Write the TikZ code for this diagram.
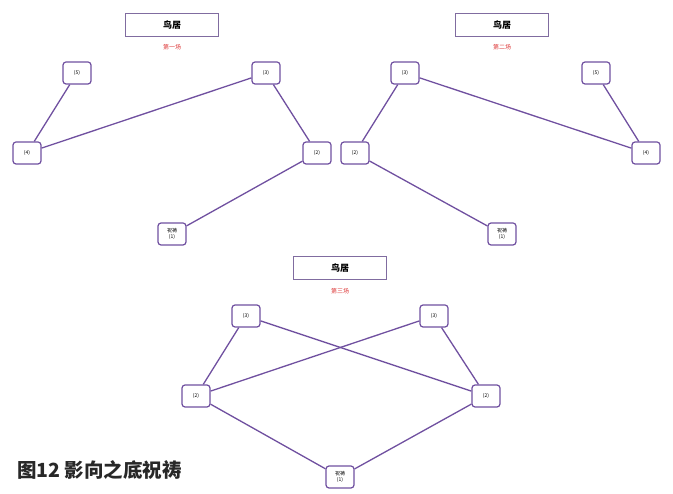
\documentclass[tikz,border=0pt]{standalone}
\usepackage{fontspec}
\usepackage{tikz}
\usetikzlibrary{arrows.meta,positioning}
\newfontfamily\cjk{Noto Sans CJK SC}
\definecolor{ritepurple}{RGB}{112,80,160}
\definecolor{gatepurple}{RGB}{128,108,160}
\definecolor{roundred}{RGB}{222,60,60}
\definecolor{captiongray}{RGB}{40,40,40}

\begin{document}
\begin{tikzpicture}[x=1pt,y=-1pt,
  stone/.style={draw=ritepurple,line width=1.2pt,rounded corners=3pt,fill=white,
    minimum width=28pt,minimum height=22pt,inner sep=1pt,font=\cjk\fontsize{5}{6}\selectfont,align=center},
  gate/.style={draw=gatepurple,line width=1.6pt,fill=white,minimum width=93pt,minimum height=23pt,
    font=\cjk\bfseries\fontsize{9}{10}\selectfont},
  round/.style={text=roundred,font=\cjk\fontsize{6}{7}\selectfont},
  link/.style={ritepurple,line width=1.3pt}]
\useasboundingbox (0,0) rectangle (673,494);
\fill[white] (0,0) rectangle (673,494);
% first round
\node[gate] (g1) at (172,25) {鸟居};
\node[round] (r1) at (172,47) {第一场};
\node[stone] (a5) at (77,73) {(5)};
\node[stone] (a3) at (266,73) {(3)};
\node[stone] (a4) at (27,153) {(4)};
\node[stone] (a2) at (317,153) {(2)};
\node[stone] (a1) at (172,234) {祝祷\\(1)};
\draw[link] (a5) -- (a4);
\draw[link] (a4) -- (a3);
\draw[link] (a3) -- (a2);
\draw[link] (a2) -- (a1);
% second round
\node[gate] (g2) at (502,25) {鸟居};
\node[round] (r2) at (502,47) {第二场};
\node[stone] (b3) at (405,73) {(3)};
\node[stone] (b5) at (596,73) {(5)};
\node[stone] (b2) at (355,153) {(2)};
\node[stone] (b4) at (646,153) {(4)};
\node[stone] (b1) at (502,234) {祝祷\\(1)};
\draw[link] (b3) -- (b2);
\draw[link] (b3) -- (b4);
\draw[link] (b5) -- (b4);
\draw[link] (b2) -- (b1);
% third round
\node[gate] (g3) at (340,268) {鸟居};
\node[round] (r3) at (340,291) {第三场};
\node[stone] (c3l) at (246,316) {(3)};
\node[stone] (c3r) at (434,316) {(3)};
\node[stone] (c2l) at (196,396) {(2)};
\node[stone] (c2r) at (486,396) {(2)};
\node[stone] (c1) at (340,477) {祝祷\\(1)};
\draw[link] (c3l) -- (c2l);
\draw[link] (c3l) -- (c2r);
\draw[link] (c3r) -- (c2l);
\draw[link] (c3r) -- (c2r);
\draw[link] (c2l) -- (c1);
\draw[link] (c2r) -- (c1);
% caption
\node[anchor=west,text=captiongray,inner sep=0pt,font=\cjk\bfseries\fontsize{19.5}{22}\selectfont] (cap) at (17,470) {图12 影向之底祝祷};
\end{tikzpicture}
\end{document}
